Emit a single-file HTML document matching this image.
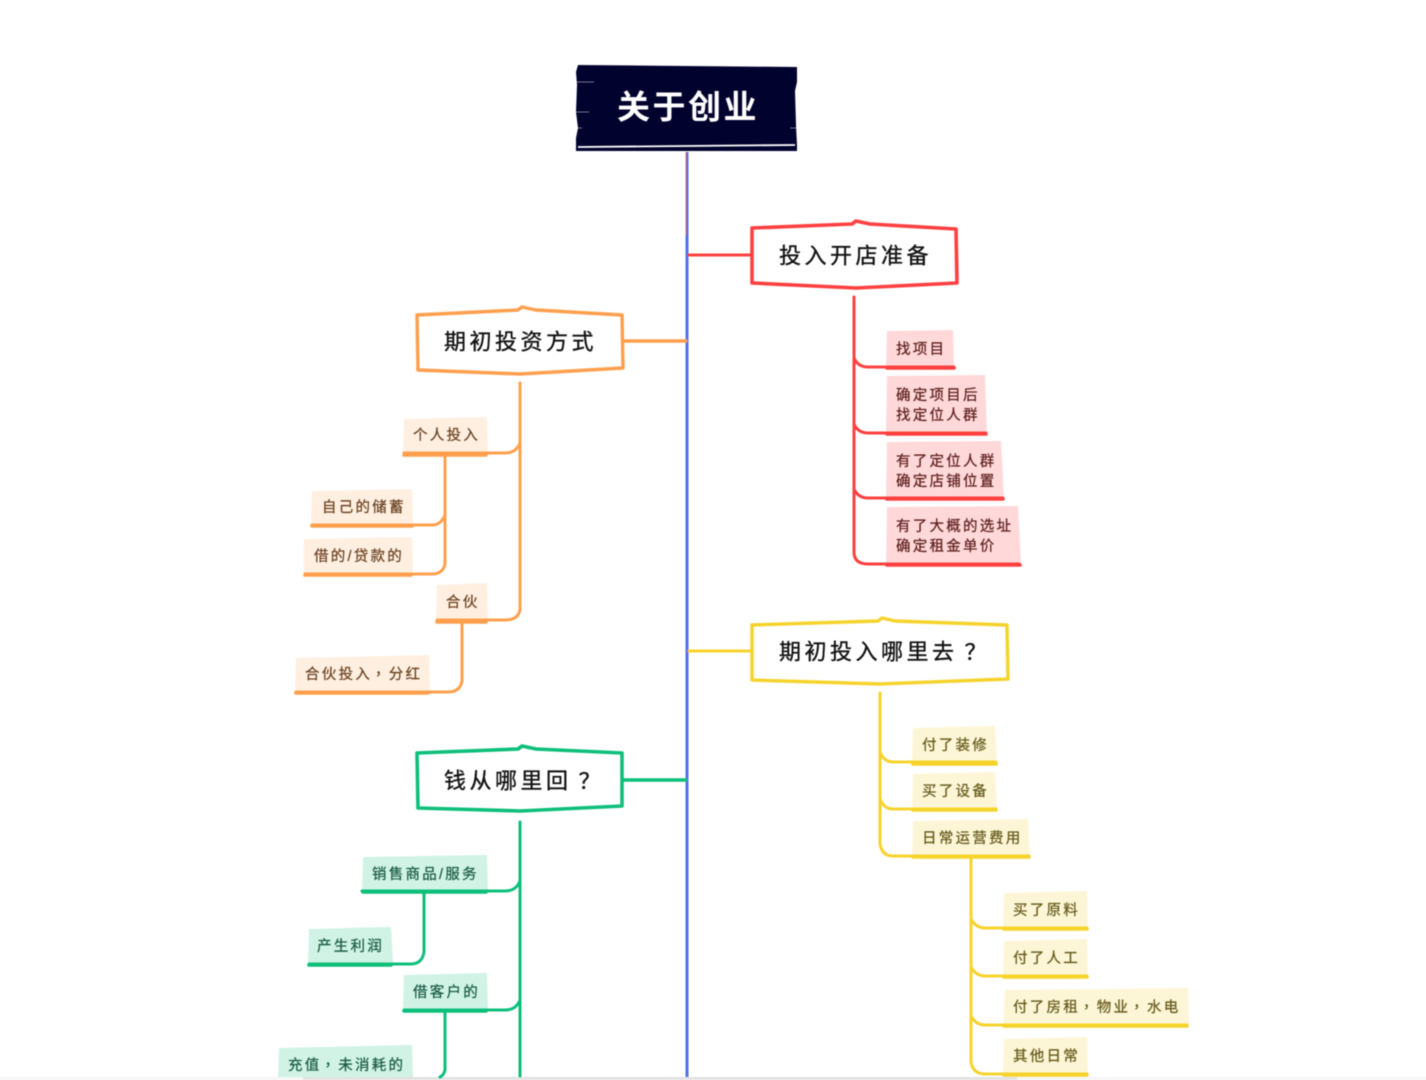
<!DOCTYPE html>
<html lang="zh">
<head>
<meta charset="utf-8">
<title>关于创业</title>
<style>
html,body{margin:0;padding:0;background:#fff;width:1426px;height:1080px;overflow:hidden}
svg{display:block;filter:blur(.4px)}
text{font-family:"Liberation Sans","Noto Sans CJK SC","WenQuanYi Zen Hei",sans-serif;dominant-baseline:central;transform:translateY(1.8px)}
.s{font-size:14.5px;letter-spacing:2.25px;stroke-width:.25px}
.h{font-size:22px;letter-spacing:3.5px;fill:#111;stroke:#111;stroke-width:.35px}
.r{font-size:33px;font-weight:700;letter-spacing:2.5px;fill:#fff}
.l{fill:none;stroke-linecap:round;stroke-linejoin:round}
.red .l{stroke:#ff4040}.red .b{fill:#ffd9d9}.red text.s{fill:#5e1f1f;stroke:#5e1f1f}
.org .l{stroke:#ff9f4d}.org .b{fill:#ffefe0}.org text.s{fill:#6a4424;stroke:#6a4424}
.yel .l{stroke:#f6d32b}.yel .b{fill:#fdf6d6}.yel text.s{fill:#665a1c;stroke:#665a1c}
.grn .l{stroke:#0dbf7b}.grn .b{fill:#d0f3e5}.grn text.s{fill:#1b5c46;stroke:#1b5c46}
</style>
</head>
<body>
<svg width="1426" height="1080" viewBox="0 0 1426 1080" xmlns="http://www.w3.org/2000/svg">
<rect width="1426" height="1080" fill="#fff"/>

<!-- scrollbar strip -->
<rect x="0" y="1077" width="1426" height="3" fill="#f6f6f6"/>
<rect x="303" y="1077" width="714" height="3" fill="#e2e2e2"/>

<!-- central trunk -->
<path d="M687 152V1077" stroke="#4f72ea" stroke-width="3" fill="none"/>
<path d="M686 152V235" stroke="#e06a6a" stroke-width="1" fill="none"/>

<!-- root -->
<polygon points="578,65 797,67 797,82 795,91 796,125 797,145 797,151 576,151 576,138 578,128 576,112 577,85 576,72" fill="#02022e"/>
<path d="M578 147L795 145" stroke="#fff" stroke-width="1.8" fill="none"/>
<path d="M576 82H594M576 112H589M576 128H582M790 128H798" stroke="#fff" stroke-width=".8" fill="none" opacity=".6"/>
<text class="r" x="617" y="105">关于创业</text>

<!-- RED -->
<g class="red">
<path class="l" stroke-width="3" d="M689 255H752"/>
<path d="M752 228L852 224L856 221L870 224L956 229L957 283L856 288L752 283Z" fill="#fff"/>
<path class="l" stroke-width="3.6" d="M752 228L852 224L856 221L870 224L956 229L957 283L856 288L752 283Z"/>
<text class="h" x="779" y="254">投入开店准备</text>

<polygon class="b" points="887,331 953,330 954,366 886,367"/>
<polygon class="b" points="887,376 985,375 987,433 886,433"/>
<polygon class="b" points="887,442 1001,441 1004,499 886,499"/>
<polygon class="b" points="887,507 1018,506 1021,564 886,565"/>
<path class="l" stroke-width="3" d="M854 297V552Q854 564 868 564H1019"/>
<path class="l" stroke-width="3" d="M854 358Q858 367 868 367H954"/>
<path class="l" stroke-width="3" d="M854 424Q858 433 868 433H986"/>
<path class="l" stroke-width="3" d="M854 489Q858 498 868 498H1003"/>
<path class="l" stroke-width="3.6" d="M887 368H954M887 434H986M887 499H1003M887 565H1020"/>
<text class="s" x="896" y="348">找项目</text>
<text class="s" x="896" y="394">确定项目后</text>
<text class="s" x="896" y="414">找定位人群</text>
<text class="s" x="896" y="460">有了定位人群</text>
<text class="s" x="896" y="480">确定店铺位置</text>
<text class="s" x="896" y="525">有了大概的选址</text>
<text class="s" x="896" y="545">确定租金单价</text>
</g>

<!-- ORANGE -->
<g class="org">
<path class="l" stroke-width="3.4" d="M622 341H686"/>
<path d="M417 315L518 310L522 307L536 310L622 315L623 368L520 374L418 370Z" fill="#fff"/>
<path class="l" stroke-width="3.4" d="M417 315L518 310L522 307L536 310L622 315L623 368L520 374L418 370Z"/>
<text class="h" x="444" y="340">期初投资方式</text>

<polygon class="b" points="404,419 487,417 488,454 403,455"/>
<polygon class="b" points="312,491 412,489 413,525 311,526"/>
<polygon class="b" points="304,539 412,537 413,574 304,576"/>
<polygon class="b" points="437,585 487,583 488,620 436,621"/>
<polygon class="b" points="296,658 429,655 430,692 295,693"/>
<path class="l" stroke-width="3" d="M520 383V610Q518 620 505 620H437"/>
<path class="l" stroke-width="3" d="M520 443Q516 453 505 453H404"/>
<path class="l" stroke-width="3" d="M445 456V564Q443 574 432 574H305"/>
<path class="l" stroke-width="3" d="M445 515Q441 525 432 525H312"/>
<path class="l" stroke-width="3" d="M462 622V681Q460 692 448 692H296"/>
<path class="l" stroke-width="3.6" d="M404 455H486M312 526H412M305 575H411M437 622H486M296 693H428"/>
<text class="s" x="413" y="434">个人投入</text>
<text class="s" x="322" y="506">自己的储蓄</text>
<text class="s" x="314" y="555">借的/贷款的</text>
<text class="s" x="446" y="601">合伙</text>
<text class="s" x="305" y="673">合伙投入<tspan dx="3" dy="-4">，</tspan><tspan dx="-3" dy="4">分红</tspan></text>
</g>

<!-- YELLOW -->
<g class="yel">
<path class="l" stroke-width="3" d="M689 651H752"/>
<path d="M752 625L878 621L882 618L895 621L1007 625L1008 679L880 684L752 680Z" fill="#fff"/>
<path class="l" stroke-width="3.4" d="M752 625L878 621L882 618L895 621L1007 625L1008 679L880 684L752 680Z"/>
<text class="h" x="779" y="650">期初投入哪里去<tspan dx="7">？</tspan></text>

<polygon class="b" points="913,728 995,726 997,762 912,763"/>
<polygon class="b" points="913,774 995,772 997,809 912,810"/>
<polygon class="b" points="913,821 1028,819 1030,856 912,857"/>
<polygon class="b" points="1004,893 1087,891 1088,928 1003,929"/>
<polygon class="b" points="1004,941 1087,939 1088,976 1003,977"/>
<polygon class="b" points="1005,990 1188,988 1189,1025 1003,1026"/>
<polygon class="b" points="1004,1039 1087,1037 1088,1074 1003,1075"/>
<path class="l" stroke-width="3" d="M880 693V844Q882 856 893 856H1029"/>
<path class="l" stroke-width="3" d="M880 752Q884 762 893 762H996"/>
<path class="l" stroke-width="3" d="M880 799Q884 809 893 809H996"/>
<path class="l" stroke-width="3" d="M971 858V1062Q973 1074 985 1074H1087"/>
<path class="l" stroke-width="3" d="M971 919Q976 928 985 928H1087"/>
<path class="l" stroke-width="3" d="M971 967Q976 976 985 976H1087"/>
<path class="l" stroke-width="3" d="M971 1016Q976 1025 985 1025H1187"/>
<path class="l" stroke-width="3.6" d="M913 764H996M913 810H996M913 857H1029M1004 929H1087M1004 977H1087M1004 1026H1187M1004 1075H1087"/>
<text class="s" x="922" y="744">付了装修</text>
<text class="s" x="922" y="790">买了设备</text>
<text class="s" x="922" y="837">日常运营费用</text>
<text class="s" x="1013" y="909">买了原料</text>
<text class="s" x="1013" y="957">付了人工</text>
<text class="s" x="1013" y="1006">付了房租<tspan dx="3" dy="-4">，</tspan><tspan dx="-3" dy="4">物业</tspan><tspan dx="3" dy="-4">，</tspan><tspan dx="-3" dy="4">水电</tspan></text>
<text class="s" x="1013" y="1055">其他日常</text>
</g>

<!-- GREEN -->
<g class="grn">
<path class="l" stroke-width="3.6" d="M622 780H686"/>
<path d="M417 753L518 749L522 746L536 749L622 753L622 806L520 811L418 808Z" fill="#fff"/>
<path class="l" stroke-width="3.6" d="M417 753L518 749L522 746L536 749L622 753L622 806L520 811L418 808Z"/>
<text class="h" x="444" y="779">钱从哪里回<tspan dx="7">？</tspan></text>

<polygon class="b" points="363,857 487,855 488,891 362,893"/>
<polygon class="b" points="309,929 391,927 393,964 308,965"/>
<polygon class="b" points="404,975 487,973 488,1010 403,1011"/>
<polygon class="b" points="279,1048 412,1045 413,1077 278,1077"/>
<path class="l" stroke-width="3" d="M520 822V1076"/>
<path class="l" stroke-width="3" d="M520 881Q516 891 505 891H362"/>
<path class="l" stroke-width="3" d="M424 893V952Q422 964 411 964H309"/>
<path class="l" stroke-width="3" d="M520 1000Q516 1010 505 1010H404"/>
<path class="l" stroke-width="3" d="M445 1012V1070Q444 1075 440 1077"/>
<path class="l" stroke-width="3.6" d="M363 892H486M309 965H391M404 1011H486"/>
<text class="s" x="372" y="873">销售商品/服务</text>
<text class="s" x="317" y="945">产生利润</text>
<text class="s" x="413" y="991">借客户的</text>
<text class="s" x="288" y="1064">充值<tspan dx="3" dy="-4">，</tspan><tspan dx="-3" dy="4">未消耗的</tspan></text>
</g>
</svg>
</body>
</html>
